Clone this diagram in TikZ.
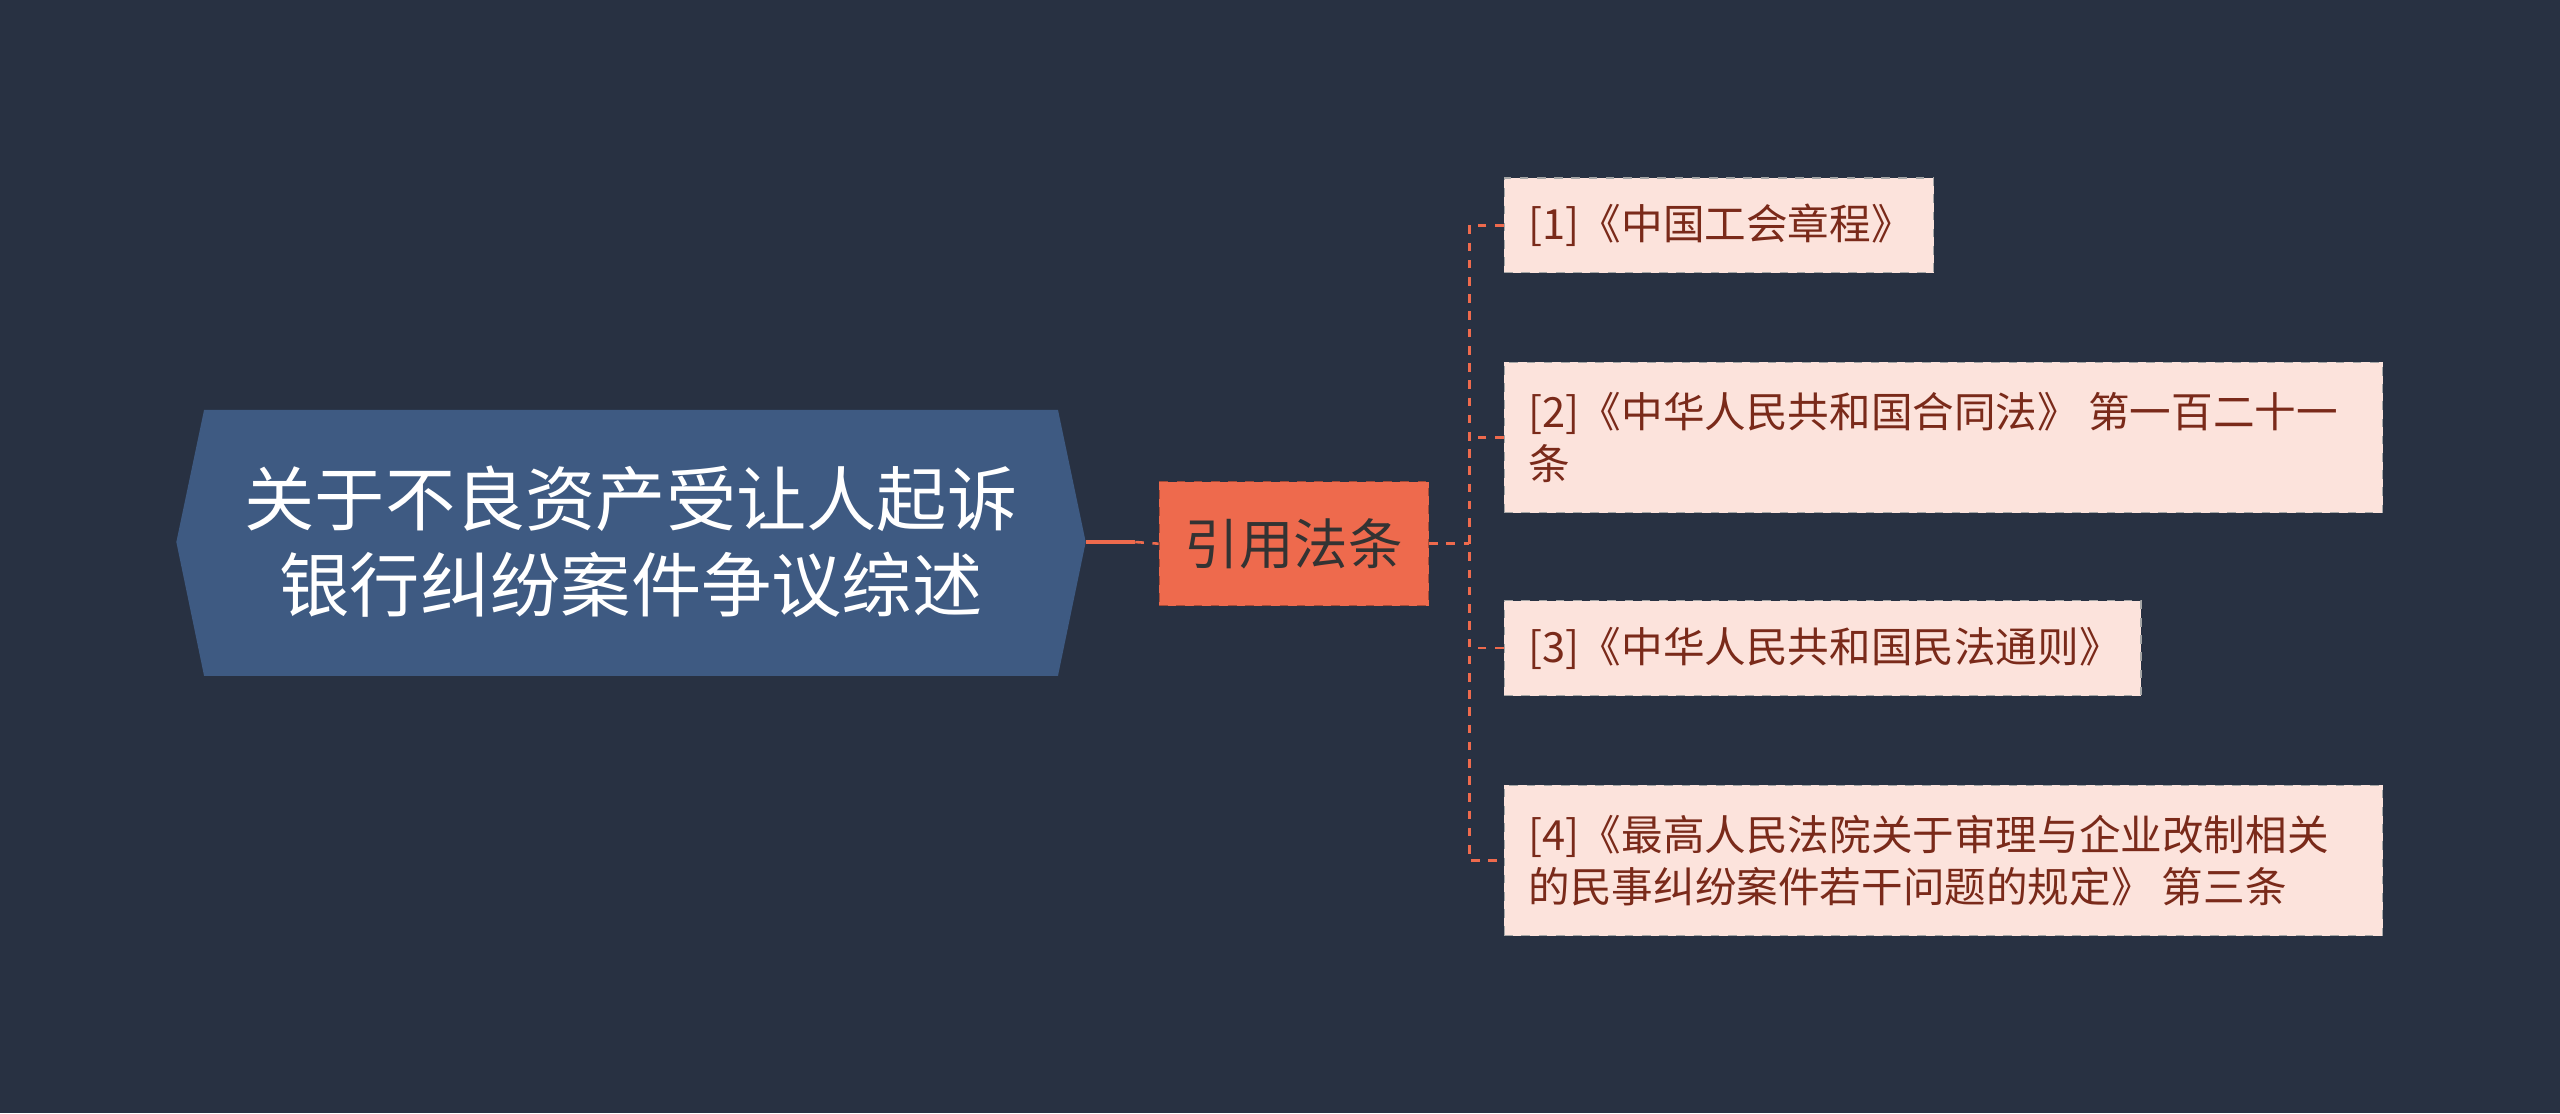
\documentclass[tikz,border=0pt]{standalone}
\usepackage{fontspec}
\setmainfont{Noto Sans CJK SC}
\begin{document}
\begin{tikzpicture}[x=0.02cm,y=-0.02cm,
  box/.style={draw=black!35,dashed,fill=pinkbg,anchor=west},
  link/.style={draw=orangec,dashed,line width=0.9pt}]
\definecolor{bg}{HTML}{283142}
\definecolor{rootc}{HTML}{3E5A82}
\definecolor{orangec}{HTML}{EE6A4D}
\definecolor{pinkbg}{HTML}{FCE3DC}
\definecolor{kidtext}{HTML}{7A2A1A}
\fill[bg] (0,0) rectangle (1568,682);
\useasboundingbox (0,0) rectangle (1568,682);
\fill[rootc] (108,332) -- (125,251) -- (648,251) -- (665,332) -- (648,414) -- (125,414) -- cycle;
\node[text=white,font=\fontsize{24.5}{30}\selectfont,align=center,minimum width=557*0.02cm,minimum height=163*0.02cm] (root) at (386.5,332) {关于不良资产受让人起诉\\银行纠纷案件争议综述};
\node[fill=orangec,draw=orangec!70!black,dashed,minimum width=165*0.02cm,minimum height=76*0.02cm,font=\fontsize{19}{22}\selectfont,text=black!80] (mid) at (792.5,333) {引用法条};
\draw[orangec,line width=1.2pt] (root.east) -- ++(30,0) coordinate (r1);
\draw[link] (r1) -- (mid.west);
\node[box,minimum width=263*0.02cm,minimum height=58*0.02cm] (c1) at (921,138) {};
\node[box,minimum width=538*0.02cm,minimum height=92*0.02cm] (c2) at (921,268) {};
\node[box,minimum width=390*0.02cm,minimum height=58*0.02cm] (c3) at (921,397) {};
\node[box,minimum width=538*0.02cm,minimum height=92*0.02cm] (c4) at (921,527) {};
\tikzset{kt/.style={text=kidtext,font=\fontsize{14.5}{18}\selectfont,align=left,anchor=west,inner sep=0pt}}
\node[kt] (t1) at (936,138) {[1]《中国工会章程》};
\node[kt] (t2) at (936,268) {[2]《中华人民共和国合同法》 第一百二十一\\条};
\node[kt] (t3) at (936,397) {[3]《中华人民共和国民法通则》};
\node[kt] (t4) at (936,527) {[4]《最高人民法院关于审理与企业改制相关\\的民事纠纷案件若干问题的规定》 第三条};
\coordinate (b) at (900,333);
\draw[link] (mid.east) -- (b);
\draw[link] (c1.west) -- (900,138) -- (900,527) -- (c4.west);
\draw[link] (c2.west) -- (900,268);
\draw[link] (c3.west) -- (900,397);
\end{tikzpicture}
\end{document}
